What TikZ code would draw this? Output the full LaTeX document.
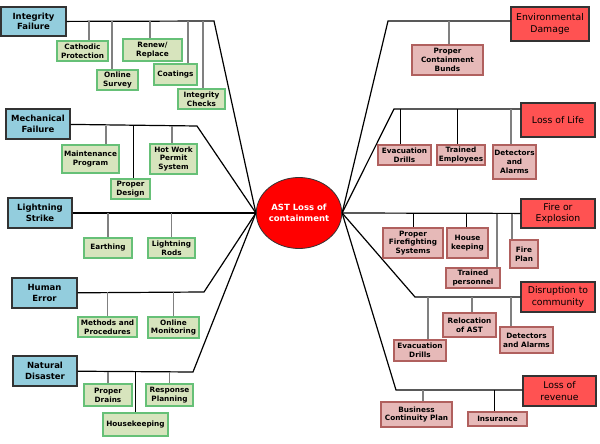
\documentclass[tikz,border=0pt]{standalone}
\usepackage{fontspec}
\setmainfont{DejaVu Sans}
\usetikzlibrary{shapes.geometric}
\definecolor{akink}   {HTML}{333333}
\definecolor{akblue}  {HTML}{93CDDD}
\definecolor{akleaf}  {HTML}{D7E4BD}
\definecolor{akgreen} {HTML}{66C077}
\definecolor{akred}   {HTML}{FF5252}
\definecolor{akrose}  {HTML}{E6B9B8}
\definecolor{akbrick} {HTML}{B0605E}
\definecolor{akgrey}  {HTML}{808080}
\tikzset{
  sz/.style 2 args={minimum width=#1pt, minimum height=#2pt},
  akcause/.style={draw=akink, fill=akblue, line width=1.2pt, inner sep=0pt, align=center,
                  font=\bfseries\fontsize{8.5}{10.5}\selectfont},
  akeffect/.style={akcause, fill=akred, font=\fontsize{9.3}{11.5}\selectfont},
  akguard/.style={draw=akgreen, fill=akleaf, line width=1.3pt, inner sep=0pt, align=center,
                  font=\bfseries\fontsize{7.3}{8.8}\selectfont},
  akcure/.style={akguard, draw=akbrick, fill=akrose},
  akhub/.style={ellipse, draw=akink, fill=red, line width=0.8pt, inner sep=0pt, align=center,
                text=white, font=\bfseries\fontsize{8.5}{11}\selectfont},
  aklink/.style={draw=black, line width=1.2pt},
  akdrop/.style={draw=akgrey, line width=1.1pt},
  akdark/.style={draw=black, line width=0.8pt},
}
\begin{document}
\begin{tikzpicture}[x=1pt,y=-1pt]
  \useasboundingbox (0,0) rectangle (600,444);
  \node[akhub, sz={80}{71}] (ast) at (299,213) {AST Loss of\\containment};

  % causes
  \node[akcause, sz={65}{29}] (intf) at (33.5,21.5) {Integrity\\Failure};
  \node[akcause, sz={64}{30}] (mech) at (38,124) {Mechanical\\Failure};
  \node[akcause, sz={64}{30}] (ligh) at (40,213) {Lightning\\Strike};
  \node[akcause, sz={65}{30}] (hume) at (44.5,293) {Human\\Error};
  \node[akcause, sz={64}{30}] (natd) at (45,371) {Natural\\Disaster};
  \coordinate (ifc) at (214,21);
  \coordinate (mfc) at (197,126);
  \coordinate (hec) at (204,292);
  \coordinate (ndc) at (193,372);
  \draw[aklink] (intf) -- (ifc) -- (ast.west);
  \draw[aklink] (mech) -- (mfc) -- (ast.west);
  \draw[aklink] (ligh) -- (ast.west);
  \draw[aklink] (hume) -- (hec) -- (ast.west);
  \draw[aklink] (natd) -- (ndc) -- (ast.west);

  % barriers
  \node[akguard, sz={51}{20}] (cath) at (82.5,51) {Cathodic\\Protection};
  \node[akguard, sz={41}{20}] (onls) at (117.5,80) {Online\\Survey};
  \node[akguard, sz={59}{22}] (renw) at (152.5,50) {Renew/\\Replace};
  \node[akguard, sz={43}{21}] (coat) at (175.5,74.5) {Coatings};
  \node[akguard, sz={47}{20}] (ichk) at (201.5,99) {Integrity\\Checks};
  \node[akguard, sz={57}{28}] (mprg) at (90.5,159) {Maintenance\\Program};
  \node[akguard, sz={39}{20}] (pdes) at (130.5,189) {Proper\\Design};
  \node[akguard, sz={47}{30}] (hwps) at (173.5,159) {Hot Work\\Permit\\System};
  \node[akguard, sz={48}{20}] (erth) at (108,248) {Earthing};
  \node[akguard, sz={47}{20}] (lrod) at (171.5,248) {Lightning\\Rods};
  \node[akguard, sz={59}{20}] (mnp)  at (107.5,327) {Methods and\\Procedures};
  \node[akguard, sz={51}{21}] (onlm) at (173.5,327.5) {Online\\Monitoring};
  \node[akguard, sz={48}{22}] (pdrn) at (108,395) {Proper\\Drains};
  \node[akguard, sz={47}{22}] (rspl) at (169.5,395) {Response\\Planning};
  \node[akguard, sz={65}{23}] (hskp) at (135.5,424.5) {Housekeeping};
  \draw[akdrop] (ifc -| 89,0)  -- (cath.north -| 89,0);
  \draw[akdrop] (ifc -| 112,0) -- (onls.north -| 112,0);
  \draw[akdrop] (ifc -| 150,0) -- (renw.north -| 150,0);
  \draw[akdrop] (ifc -| 188,0) -- (coat.north -| 188,0);
  \draw[akdrop] (ifc -| 203,0) -- (ichk.north -| 203,0);
  \draw[akdrop] (mfc -| 106,0) -- (mprg.north -| 106,0);
  \draw[akdark] (mfc -| 133,0) -- (pdes.north -| 133,0);
  \draw[akdrop] (mfc -| 172,0) -- (hwps.north -| 172,0);
  \draw[akdrop] (ligh -| erth.north) -- (erth);
  \draw[akdrop] (ligh -| lrod.north) -- (lrod);
  \draw[akdrop] (hec -| mnp.north) -- (mnp);
  \draw[akdrop] (hec -| onlm.north) -- (onlm);
  \draw[akdrop] (ndc -| pdrn.north) -- (pdrn);
  \draw[akdark] (ndc -| hskp.north) -- (hskp);
  \draw[akdrop] (ndc -| rspl.north) -- (rspl);

  % consequences
  \node[akeffect, sz={78}{34}] (envd) at (550,24) {Environmental\\Damage};
  \node[akeffect, sz={74}{34}] (lol)  at (558,120) {Loss of Life};
  \node[akeffect, sz={74}{29}] (fire) at (558,213.5) {Fire or\\Explosion};
  \node[akeffect, sz={74}{30}] (disr) at (558,297) {Disruption to\\community};
  \node[akeffect, sz={73}{30}] (lrev) at (559.5,391) {Loss of\\revenue};
  \coordinate (envc) at (388,21);
  \coordinate (lolc) at (394,109);
  \coordinate (disc) at (415,297);
  \coordinate (lrvc) at (396,390);
  \draw[aklink] (envd.west |- envc) -- (envc) -- (ast.east);
  \draw[aklink] (lol.west |- lolc) -- (lolc) -- (ast.east);
  \draw[aklink] (fire) -- (ast.east);
  \draw[aklink] (disr) -- (disc) -- (ast.east);
  \draw[aklink] (lrev.west |- lrvc) -- (lrvc) -- (ast.east);

  % mitigations
  \node[akcure, sz={71}{30}] (pcb)  at (447.5,60) {Proper\\Containment\\Bunds};
  \node[akcure, sz={53}{20}] (evd1) at (404.5,155) {Evacuation\\Drills};
  \node[akcure, sz={48}{20}] (trem) at (461,155) {Trained\\Employees};
  \node[akcure, sz={43}{34}] (dal1) at (514.5,162) {Detectors\\and\\Alarms};
  \node[akcure, sz={60}{30}] (pfs)  at (413,243) {Proper\\Firefighting\\Systems};
  \node[akcure, sz={41}{30}] (hkp)  at (467.5,243) {House\\keeping};
  \node[akcure, sz={54}{20}] (trp)  at (473,278) {Trained\\personnel};
  \node[akcure, sz={28}{28}] (fpl)  at (524,254) {Fire\\Plan};
  \node[akcure, sz={53}{24}] (rel)  at (469.5,325) {Relocation\\of AST};
  \node[akcure, sz={53}{26}] (dal2) at (526.5,340) {Detectors\\and Alarms};
  \node[akcure, sz={52}{21}] (evd2) at (420,350.5) {Evacuation\\Drills};
  \node[akcure, sz={71}{25}] (bcp)  at (416.5,414.5) {Business\\Continuity Plan};
  \node[akcure, sz={59}{14}] (ins)  at (497.5,419) {Insurance};
  \draw[akdrop] (envc -| 449,0) -- (pcb.north -| 449,0);
  \draw[akdark] (lolc -| 400,0) -- (evd1.north -| 400,0);
  \draw[akdark] (lolc -| 457,0) -- (trem.north -| 457,0);
  \draw[akdrop] (lolc -| 511,0) -- (dal1.north -| 511,0);
  \draw[akdark] (fire.west -| pfs.north) -- (pfs);
  \draw[akdark] (fire.west -| 466,0) -- (hkp.north -| 466,0);
  \draw[akdrop] (fire.west -| 497,0) -- (trp.north -| 497,0);
  \draw[akdrop] (fire.west -| 512,0) -- (fpl.north -| 512,0);
  \draw[akdrop] (disc -| 428,0) -- (evd2.north -| 428,0);
  \draw[akdrop] (disc -| 472,0) -- (rel.north -| 472,0);
  \draw[akdrop] (disc -| 511,0) -- (dal2.north -| 511,0);
  \draw[akdrop] (lrvc -| 423,0) -- (bcp.north -| 423,0);
  \draw[akdark] (lrvc -| 494,0) -- (ins.north -| 494,0);
\end{tikzpicture}
\end{document}
